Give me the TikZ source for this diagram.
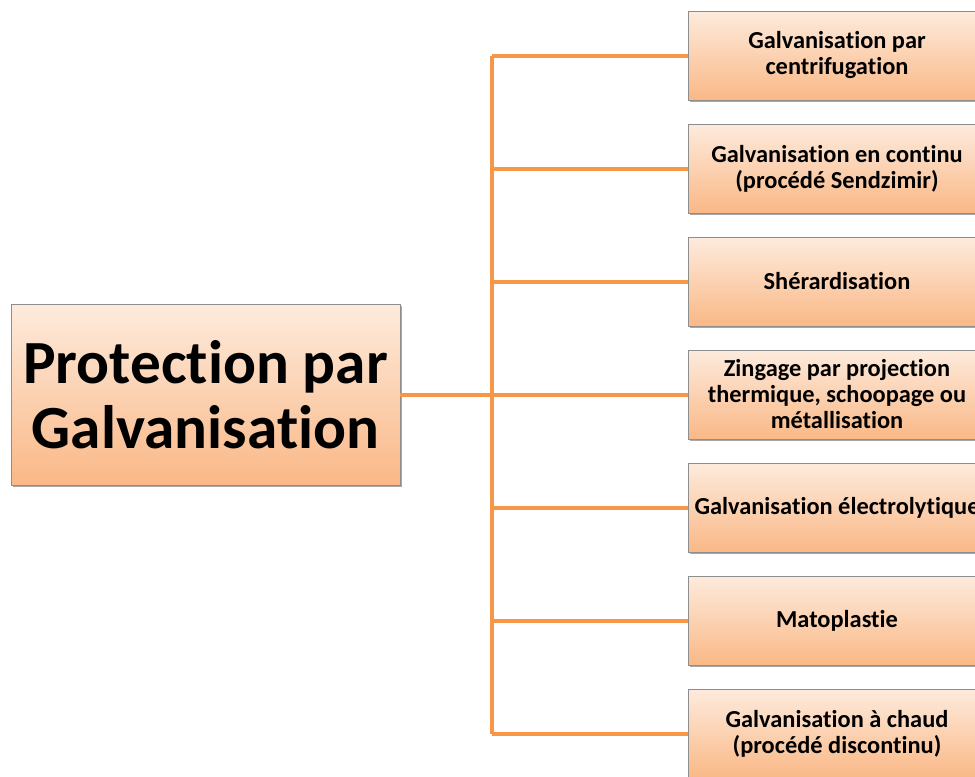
\documentclass[tikz,border=0pt]{standalone}
\usepackage{fontspec}
\setmainfont{Carlito}[Ligatures={NoCommon}]
\usetikzlibrary{shadows}
\newcommand\tightspaces{\spaceskip=0.226em\relax\xspaceskip=0.3em\relax}
\definecolor{lineor}{HTML}{F79646}
\definecolor{boxtop}{HTML}{FDEBDD}
\definecolor{boxbot}{HTML}{FAB886}
\definecolor{boxline}{HTML}{8E8E8E}
\tikzset{
  px/.style={x=0.75pt,y=-0.75pt},
  gbox/.style={draw=boxline, line width=0.6pt, top color=boxtop, bottom color=boxbot,
    drop shadow={shadow xshift=1.5pt, shadow yshift=-1.5pt, fill=black, opacity=0.35},
    align=center, inner sep=0pt, execute at begin node={\tightspaces}},
  subbox/.style={gbox, minimum width=223.5pt, minimum height=66.75pt, text width=223.5pt,
    font={\bfseries\fontsize{18.3pt}{19.5pt}\selectfont}},
  mainbox/.style={gbox, minimum width=291.75pt, minimum height=135.75pt, text width=291.75pt,
    font={\bfseries\fontsize{46pt}{48.5pt}\selectfont}},
  conn/.style={draw=lineor, line width=3pt}
}
\begin{document}
\begin{tikzpicture}[px]
\useasboundingbox (0,0) rectangle (975,776);
\clip (0,0) rectangle (975,776);
\coordinate (bus) at (492,394.5);
\node[mainbox] (main) at (205.5,394.5) {Protection par\\Galvanisation};
\node[subbox] (b1) at (837,55.5) {Galvanisation par\\centrifugation};
\node[subbox] (b2) at (837,168.5) {Galvanisation en continu\\(procédé Sendzimir)};
\node[subbox] (b3) at (837,281.5) {Shérardisation};
\node[subbox] (b4) at (837,394.5) {Zingage par projection\\thermique, schoopage ou\\métallisation};
\node[subbox] (b5) at (837,507.5) {Galvanisation électrolytique};
\node[subbox] (b6) at (837,620.5) {Matoplastie};
\node[subbox] (b7) at (837,733.5) {Galvanisation à chaud\\(procédé discontinu)};
\draw[conn] (main.east) -- (main.east -| bus);
\draw[conn] (b1.west -| bus) -- (b7.west -| bus);
\foreach \b in {b1,b2,b3,b4,b5,b6,b7}{
  \draw[conn] (\b.west -| bus) -- (\b.west);
}
\end{tikzpicture}
\end{document}
